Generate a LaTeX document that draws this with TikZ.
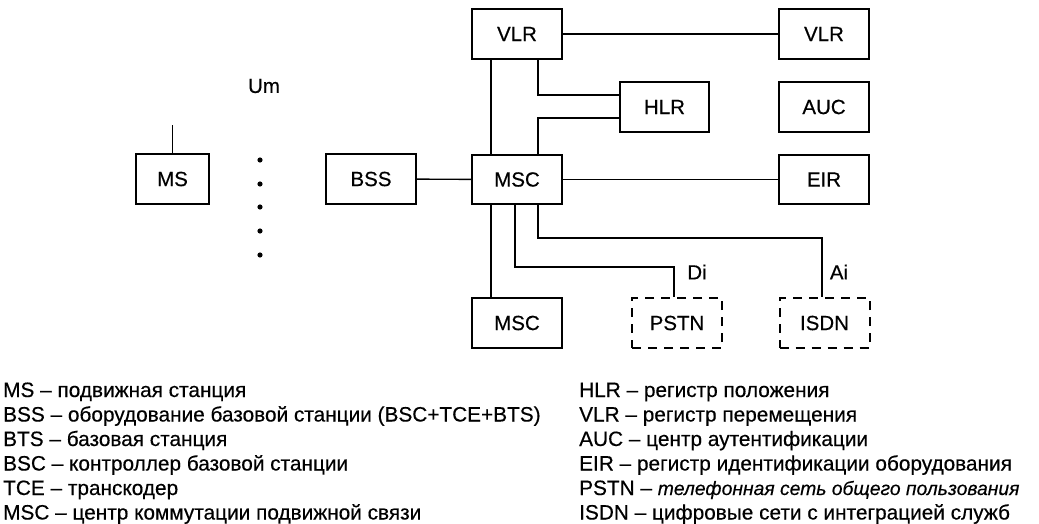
\documentclass[tikz,border=0pt]{standalone}
\usepackage{fontspec}
\setmainfont{Liberation Sans}[FakeBold=0.4]
\begin{document}
\begin{tikzpicture}[x=1pt,y=-1pt,
  box/.style={draw,line width=2pt,minimum width=90pt,minimum height=50pt,inner sep=0pt,font=\fontsize{20.5}{24}\selectfont},
  dbox/.style={box,dash pattern=on 9pt off 7pt,line width=2pt},
  conn/.style={line width=1.4pt},
  lbl/.style={inner sep=0pt,font=\fontsize{20.5}{24}\selectfont},
  leg/.style={anchor=base west,inner sep=0pt,font=\fontsize{20.8}{24}\selectfont}]
\useasboundingbox (0,0) rectangle (1039,524);
% boxes
\node[box] (VLRa) at (517,34) {VLR};
\node[box] (VLRb) at (824,34) {VLR};
\node[box,minimum width=89pt] (HLR) at (664.5,107) {HLR};
\node[box] (AUC) at (824,107) {AUC};
\node[box,minimum height=49pt] (MSC) at (517,179.5) {MSC};
\node[box,minimum height=49pt] (EIR) at (824,179.5) {EIR};
\node[box] (BSS) at (371,179) {BSS};
\node[box,minimum width=73pt] (MS) at (172.5,179) {MS};
\node[box] (MSCb) at (517,323) {MSC};
\node[dbox] (PSTN) at (677,323) {PSTN};
\node[dbox] (ISDN) at (824.5,323) {ISDN};
% antenna and air interface
\coordinate (ant) at (172.5,125);
\draw[conn] (MS.north) -- (ant);
\node[lbl] (Um) at (264,86) {Um};
\foreach \yy [count=\i] in {160,184,207,231,255}
  \fill (260,\yy) circle (2.6pt) coordinate (dot\i);
% connectors
\draw[conn] (VLRa) -- (VLRb);
\draw[conn] ([xshift=-26pt]VLRa.south) -- ([xshift=-26pt]MSC.north);
\draw[conn] ([xshift=21pt]VLRa.south) |- ([yshift=12pt]HLR.west);
\draw[conn] ([yshift=-11pt]HLR.west) -| ([xshift=21pt]MSC.north);
\draw[conn] (BSS) -- (MSC);
\draw[conn] (MSC) -- (EIR);
\draw[conn] ([xshift=-26pt]MSC.south) -- ([xshift=-26pt]MSCb.north);
\draw[conn] ([xshift=-2pt]MSC.south) |- ([xshift=-3pt,yshift=30pt]PSTN.north) -- ([xshift=-3pt]PSTN.north);
\draw[conn] ([xshift=21pt]MSC.south) |- ([xshift=-2.5pt,yshift=59pt]ISDN.north) -- ([xshift=-2.5pt]ISDN.north);
\node[lbl] (Di) at (697,272) {Di};
\node[lbl] (Ai) at (839,272) {Ai};
% legend
\node[leg] (l1) at (3,397) {MS – подвижная станция};
\node[leg] (l2) at (3,421.5) {BSS – оборудование базовой станции (BSC+TCE+BTS)};
\node[leg] (l3) at (3,446) {BTS – базовая станция};
\node[leg] (l4) at (3,470.5) {BSC – контроллер базовой станции};
\node[leg] (l5) at (3,495) {TCE – транскодер};
\node[leg] (l6) at (3,519.5) {MSC – центр коммутации подвижной связи};
\node[leg] (r1) at (579,397) {HLR – регистр положения};
\node[leg] (r2) at (579,421.5) {VLR – регистр перемещения};
\node[leg] (r3) at (579,446) {AUC – центр аутентификации};
\node[leg] (r4) at (579,470.5) {EIR – регистр идентификации оборудования};
\node[leg] (r5) at (579,495) {PSTN – {\fontsize{19.3}{24}\selectfont\itshape телефонная сеть общего пользования}};
\node[leg] (r6) at (579,519.5) {ISDN – цифровые сети с интеграцией служб};
\end{tikzpicture}
\end{document}
